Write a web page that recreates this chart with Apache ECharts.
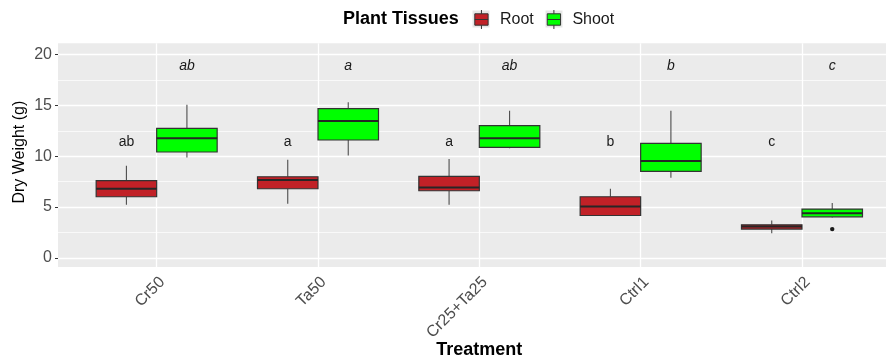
<!DOCTYPE html>
<html>
<head>
<meta charset="utf-8">
<script src="https://cdn.jsdelivr.net/npm/echarts@6/dist/echarts.min.js"></script>
<style>
  html, body { margin: 0; padding: 0; background: #fff; }
  #chart { width: 886px; height: 363px; }
</style>
</head>
<body>
<div id="chart"></div>
<script>
// Treatments on the x axis
const treatments = ['Cr50', 'Ta50', 'Cr25+Ta25', 'Ctrl1', 'Ctrl2'];

// Five-number summaries per treatment: [lower whisker, Q1, median, Q3, upper whisker]
const rootStats = [
  [5.22, 6.01, 6.80, 7.59, 9.06],
  [5.32, 6.80, 7.65, 7.98, 9.66],
  [5.22, 6.60, 6.93, 8.01, 9.72],
  [4.17, 4.17, 5.06, 6.01, 6.80],
  [2.43, 2.83, 3.09, 3.25, 3.68]
];
const shootStats = [
  [9.88, 10.41, 11.76, 12.74, 15.07],
  [10.08, 11.59, 13.47, 14.68, 15.30],
  [10.77, 10.87, 11.76, 13.00, 14.48],
  [7.88, 8.50, 9.52, 11.26, 14.48],
  [3.97, 4.04, 4.40, 4.80, 5.39]
];

// Outlying observations per treatment
const rootOutliers = [[], [], [], [], []];
const shootOutliers = [[], [], [], [], [2.83]];

// Significance letters (Tukey groups)
const rootLetters = ['ab', 'a', 'a', 'b', 'c'];
const shootLetters = ['ab', 'a', 'ab', 'b', 'c'];

// y axis breaks
const yTicks = [0, 5, 10, 15, 20];
const yMinorTicks = [2.5, 7.5, 12.5, 17.5];

const Y_MIN = -0.9, Y_MAX = 21.1;
const FONT = 'Liberation Sans, Arial, sans-serif';
const ROOT_COLOR = '#C12127';
const SHOOT_COLOR = '#00FF00';

const PANEL_TOP = 43.3;
const PANEL_H = 223.75;

// Draws one dodged box (side -1 = left half of the band, +1 = right half)
function boxRenderer(outliers, letters, side, letterValue, letterFont) {
  return function (params, api) {
    const i = api.value(0);
    const band = api.size([1, 0])[0];
    const w = band * 0.75 / 2;
    const cx = api.coord([i, 0])[0];
    const x0 = side < 0 ? cx - w : cx;
    const x1 = x0 + w;
    const xm = (x0 + x1) / 2;
    const py = v => api.coord([i, v])[1];
    const lo = py(api.value(1)), q1 = py(api.value(2)), md = py(api.value(3)),
          q3 = py(api.value(4)), hi = py(api.value(5));
    const fill = api.visual('color');
    const children = [
      { type: 'line', shape: { x1: xm, y1: hi, x2: xm, y2: q3 },
        style: { stroke: '#4d4d4d', lineWidth: 1.1 } },
      { type: 'line', shape: { x1: xm, y1: q1, x2: xm, y2: lo },
        style: { stroke: '#4d4d4d', lineWidth: 1.1 } },
      { type: 'rect', shape: { x: x0, y: q3, width: w, height: q1 - q3 },
        style: { fill: fill, stroke: '#333333', lineWidth: 1.2 } },
      { type: 'line', shape: { x1: x0, y1: md, x2: x1, y2: md },
        style: { stroke: '#262626', lineWidth: 2 } }
    ];
    (outliers[i] || []).forEach(v => {
      children.push({ type: 'circle', shape: { cx: xm, cy: py(v), r: 2.2 },
        style: { fill: '#1a1a1a' } });
    });
    children.push({
      type: 'text', x: xm, y: py(letterValue),
      style: { text: letters[i], font: letterFont, fill: '#1a1a1a',
        align: 'center', verticalAlign: 'middle' }
    });
    return { type: 'group', children: children };
  };
}

const chart = echarts.init(document.getElementById('chart'), null, { renderer: 'canvas' });

chart.setOption({
  animation: false,
  color: [ROOT_COLOR, SHOOT_COLOR],
  textStyle: { fontFamily: FONT },
  graphic: [
    { type: 'text', x: 343, y: 19,
      style: { text: 'Plant Tissues', font: 'bold 18px ' + FONT, fill: '#000',
        verticalAlign: 'middle' } },
    // legend key backgrounds
    { type: 'rect', shape: { x: 472.5, y: 10.5, width: 17, height: 17 },
      style: { fill: '#E6E6E6' }, z: 0 },
    { type: 'rect', shape: { x: 545.5, y: 10.5, width: 17, height: 17 },
      style: { fill: '#E6E6E6' }, z: 0 }
  ],
  legend: {
    data: ['Root', 'Shoot'],
    left: 474.3, top: 9.5, padding: 0,
    itemWidth: 27, itemHeight: 19, itemGap: 13,
    icon: 'path://M7,0L7,4M0,4L14,4L14,16L0,16ZM0,10L14,10M7,16L7,20',
    itemStyle: { borderColor: '#333333', borderWidth: 1 },
    textStyle: { fontSize: 16, color: '#1a1a1a', fontFamily: FONT },
    selectedMode: false
  },
  grid: [
    { left: 58, right: 0, top: PANEL_TOP, height: PANEL_H, outerBoundsMode: 'none',
      containLabel: false, show: true, backgroundColor: '#EBEBEB', borderWidth: 0 },
    { left: 76, width: 806.65, top: PANEL_TOP, height: PANEL_H, outerBoundsMode: 'none',
      containLabel: false }
  ],
  xAxis: [
    { gridIndex: 0, type: 'value', show: false, min: 0, max: 1 },
    { gridIndex: 1, type: 'category', data: treatments,
      axisLine: { show: false },
      axisTick: { alignWithLabel: true, length: 3, lineStyle: { color: '#333333' } },
      axisLabel: { interval: 0, rotate: 45, fontSize: 16, color: '#4d4d4d',
        margin: 7, verticalAlign: 'top', fontFamily: FONT },
      splitLine: { show: true, alignWithLabel: true, lineStyle: { color: '#ffffff', width: 1.3 } },
      name: 'Treatment', nameLocation: 'middle', nameGap: 74, nameMoveOverlap: false,
      nameTextStyle: { fontSize: 18, fontWeight: 'bold', color: '#000', fontFamily: FONT } }
  ],
  yAxis: [
    { gridIndex: 0, type: 'value', min: Y_MIN, max: Y_MAX, position: 'left',
      axisLine: { show: false },
      axisTick: { show: true, length: 3, lineStyle: { color: '#333333' }, customValues: yTicks },
      axisLabel: { customValues: yTicks, fontSize: 16, color: '#4d4d4d', margin: 6, fontFamily: FONT },
      splitLine: { show: true, lineStyle: { color: '#ffffff', width: 1.3 } },
      name: 'Dry Weight (g)', nameLocation: 'middle', nameGap: 30, nameMoveOverlap: false,
      nameTextStyle: { fontSize: 16, color: '#000', fontFamily: FONT, padding: [0, 0, 0, 6] } },
    { gridIndex: 0, type: 'value', min: Y_MIN, max: Y_MAX, position: 'left',
      axisLine: { show: false }, axisLabel: { show: false },
      axisTick: { show: false, customValues: yMinorTicks },
      splitLine: { show: true, lineStyle: { color: '#ffffff', width: 0.7 } } },
    { gridIndex: 1, type: 'value', min: Y_MIN, max: Y_MAX, show: false }
  ],
  series: [
    { name: 'Root', type: 'custom', xAxisIndex: 1, yAxisIndex: 2,
      itemStyle: { color: ROOT_COLOR },
      renderItem: boxRenderer(rootOutliers, rootLetters, -1, 11.4, '14px ' + FONT),
      encode: { x: 0, y: [1, 2, 3, 4, 5] },
      data: rootStats.map((s, i) => [i].concat(s)) },
    { name: 'Shoot', type: 'custom', xAxisIndex: 1, yAxisIndex: 2,
      itemStyle: { color: SHOOT_COLOR },
      renderItem: boxRenderer(shootOutliers, shootLetters, 1, 18.85, 'italic 14px ' + FONT),
      encode: { x: 0, y: [1, 2, 3, 4, 5] },
      data: shootStats.map((s, i) => [i].concat(s)) }
  ]
});
</script>
</body>
</html>
